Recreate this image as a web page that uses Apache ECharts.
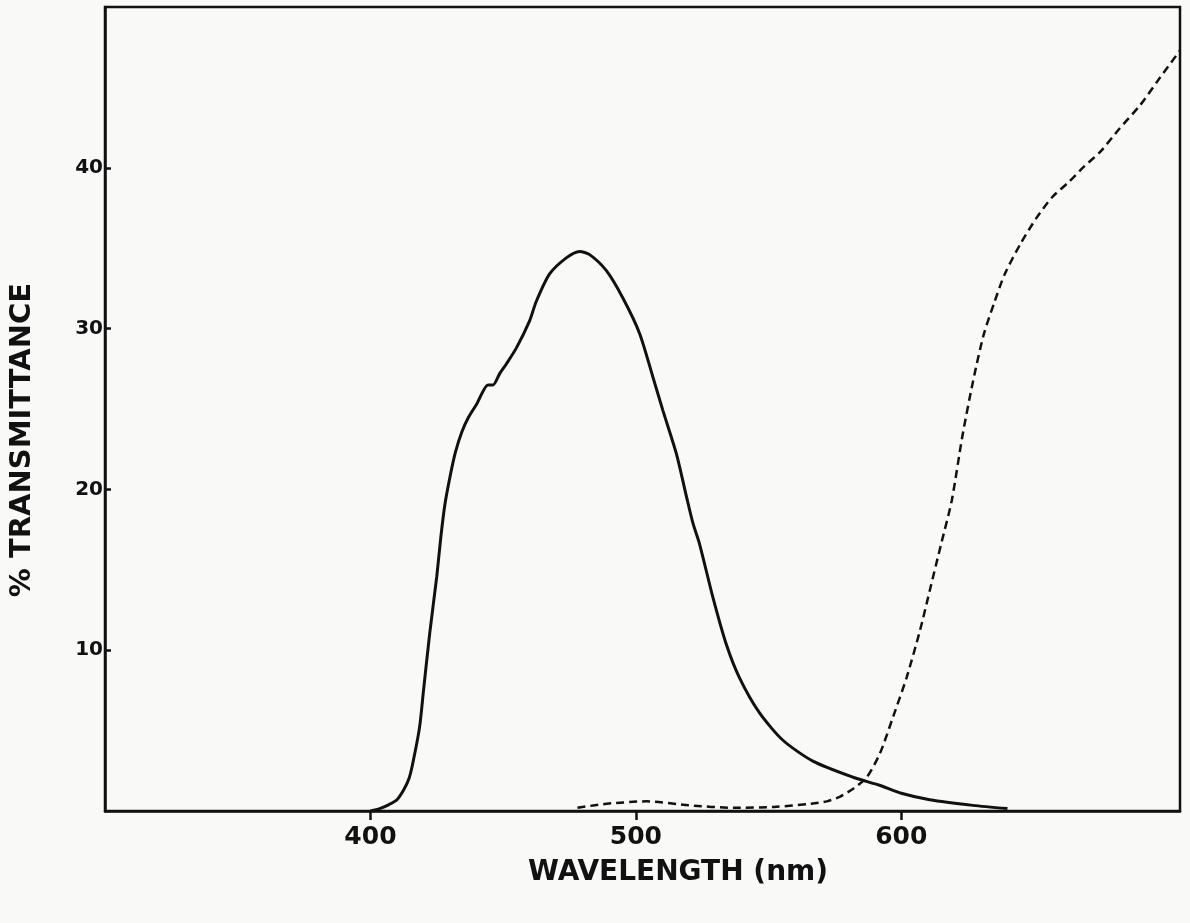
<!DOCTYPE html>
<html>
<head>
<meta charset="utf-8">
<script src="https://cdn.jsdelivr.net/npm/echarts@6/dist/echarts.min.js"></script>
<style>
html,body{margin:0;padding:0;background:#f9f9f8;}
#chart{width:1190px;height:923px;}
</style>
</head>
<body>
<div id="chart"></div>
<script>
// wavelength (nm) and % transmittance
const solidWavelength = [400, 403.5, 407, 410, 412.5, 414.5, 416, 418.5, 420, 422.3, 425, 426.5, 428, 430, 432, 434.5, 437, 440, 444.3, 446.2, 448.7, 451.2, 455, 460, 462.5, 467.5, 473.8, 478.8, 482.6, 488.9, 495.1, 501.4, 506.4, 510.2, 515.3, 519, 521.5, 524, 529, 534, 539, 546.6, 555.4, 566.7, 581.8, 591.8, 600, 610.7, 627, 640];
const solidTransmittance = [0, 0.15, 0.4, 0.7, 1.3, 2.0, 3.0, 5.2, 7.5, 11.0, 14.6, 17.0, 19.0, 20.8, 22.3, 23.6, 24.5, 25.3, 26.5, 26.5, 27.2, 27.8, 28.8, 30.5, 31.7, 33.4, 34.4, 34.8, 34.6, 33.6, 31.9, 29.7, 27.0, 24.9, 22.2, 19.6, 17.9, 16.6, 13.3, 10.4, 8.3, 6.1, 4.4, 3.1, 2.1, 1.6, 1.1, 0.7, 0.35, 0.15];

const dashedWavelength = [478, 489, 504, 520, 537, 552, 566, 572, 577, 582, 587, 592, 597, 602, 607, 611, 615, 619, 623, 627, 631, 635, 639, 645, 651, 657, 663, 669, 675, 682, 690, 697, 705];
const dashedTransmittance = [0.2, 0.45, 0.6, 0.35, 0.2, 0.25, 0.45, 0.6, 0.9, 1.4, 2.1, 3.6, 5.9, 8.3, 11.2, 13.9, 16.6, 19.3, 23.3, 26.7, 29.6, 31.6, 33.4, 35.3, 36.9, 38.2, 39.1, 40.1, 41.0, 42.4, 43.9, 45.5, 47.3];

const xTickValues = [400, 500, 600];
const yTickValues = [10, 20, 30, 40];
const xTitle = 'WAVELENGTH (nm)';
const yTitle = '% TRANSMITTANCE';

const zip = (a, b) => a.map((v, i) => [v, b[i]]);

const chart = echarts.init(document.getElementById('chart'), null, {renderer: 'canvas'});
chart.setOption({
  backgroundColor: '#f9f9f8',
  animation: false,
  grid: {left: 105, right: 10, top: 7, bottom: 112, show: true, borderColor: '#111', borderWidth: 2.5, backgroundColor: 'transparent'},
  xAxis: {
    type: 'value', min: 300, max: 705,
    axisLine: {show: true, lineStyle: {color: '#111', width: 2.5}},
    axisTick: {show: true, inside: false, length: 9, lineStyle: {color: '#111', width: 2.5}, customValues: xTickValues},
    axisLabel: {customValues: xTickValues, color: '#111', fontFamily: 'DejaVu Sans', fontWeight: 'bold', fontSize: 25, margin: 14},
    splitLine: {show: false}
  },
  yAxis: {
    type: 'value', min: 0, max: 50,
    axisLine: {show: true, lineStyle: {color: '#111', width: 2.5}},
    axisTick: {show: true, inside: true, length: 6, lineStyle: {color: '#111', width: 2.5}, customValues: yTickValues},
    axisLabel: {customValues: yTickValues, color: '#111', fontFamily: 'DejaVu Sans', fontWeight: 'bold', fontSize: 20, margin: 2},
    splitLine: {show: false}
  },
  graphic: [
    {type: 'text', left: 528, top: 859, style: {text: xTitle, fill: '#111', font: 'bold 28px "DejaVu Sans"'}},
    {type: 'text', x: 22, y: 440, rotation: Math.PI / 2, style: {text: yTitle, fill: '#111', font: 'bold 29px "DejaVu Sans"', align: 'center', verticalAlign: 'middle'}}
  ],
  series: [
    {type: 'line', data: zip(solidWavelength, solidTransmittance), showSymbol: false, smooth: 0.25, lineStyle: {color: '#111', width: 3}},
    {type: 'line', data: zip(dashedWavelength, dashedTransmittance), showSymbol: false, smooth: 0.25, lineStyle: {color: '#111', width: 2.5, type: [8, 5]}}
  ]
});
</script>
</body>
</html>
